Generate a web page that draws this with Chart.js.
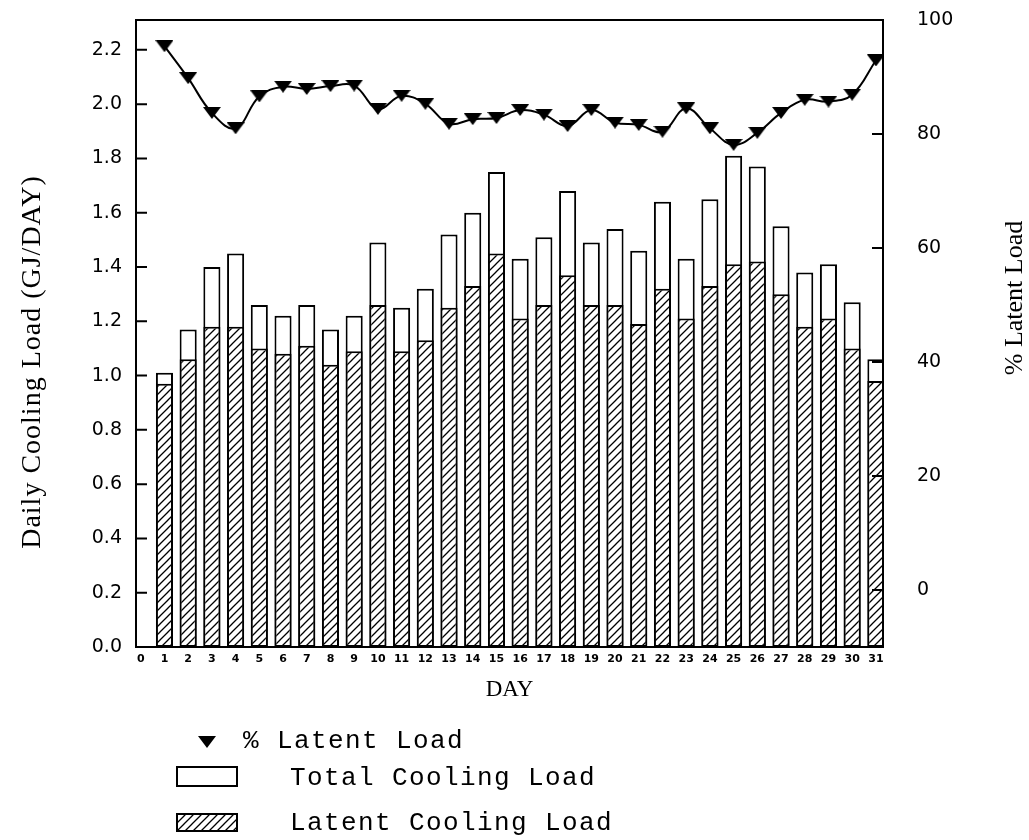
<!DOCTYPE html>
<html>
<head>
<meta charset="utf-8">
<title>Daily Cooling Load</title>
<script src="https://cdn.jsdelivr.net/npm/chart.js@4.4.1/dist/chart.umd.min.js"></script>
<style>
  html, body { margin: 0; padding: 0; background: #fff; }
  #wrap { position: relative; width: 1029px; height: 840px; }
</style>
</head>
<body>
<div id="wrap"><canvas id="coolingChart"></canvas></div>
<script>
// values
const days = [1, 2, 3, 4, 5, 6, 7, 8, 9, 10, 11, 12, 13, 14, 15, 16, 17, 18, 19, 20, 21, 22, 23, 24, 25, 26, 27, 28, 29, 30, 31];
const totalLoad = [1.01, 1.17, 1.40, 1.45, 1.26, 1.22, 1.26, 1.17, 1.22, 1.49, 1.25, 1.32, 1.52, 1.60, 1.75, 1.43,
                   1.51, 1.68, 1.49, 1.54, 1.46, 1.64, 1.43, 1.65, 1.81, 1.77, 1.55, 1.38, 1.41, 1.27, 1.06];
const latentLoad = [0.97, 1.06, 1.18, 1.18, 1.10, 1.08, 1.11, 1.04, 1.09, 1.26, 1.09, 1.13, 1.25, 1.33, 1.45, 1.21,
                    1.26, 1.37, 1.26, 1.26, 1.19, 1.32, 1.21, 1.33, 1.41, 1.42, 1.30, 1.18, 1.21, 1.10, 0.98];
const pctLatent = [95.4, 89.8, 83.7, 81.0, 86.6, 88.3, 87.9, 88.4, 88.5, 84.4, 86.7, 85.3, 81.8, 82.6, 82.8, 84.2,
                   83.4, 81.4, 84.2, 82.0, 81.6, 80.4, 84.5, 81.0, 78.1, 80.2, 83.7, 86.0, 85.7, 86.9, 92.9];

const dayTicks = [0, 1, 2, 3, 4, 5, 6, 7, 8, 9, 10, 11, 12, 13, 14, 15, 16, 17, 18, 19, 20, 21, 22, 23, 24, 25, 26, 27, 28, 29, 30, 31];
const leftTicks = [0.0, 0.2, 0.4, 0.6, 0.8, 1.0, 1.2, 1.4, 1.6, 1.8, 2.0, 2.2];
const rightTicks = [0, 20, 40, 60, 80, 100];

const legendLabels = ['% Latent Load', 'Total Cooling Load', 'Latent Cooling Load'];

// diagonal hatch used for the latent bars
function makeHatch() {
    const c = document.createElement('canvas');
    c.width = 8; c.height = 8;
    const g = c.getContext('2d');
    g.fillStyle = '#fff';
    g.fillRect(0, 0, 8, 8);
    g.strokeStyle = '#000';
    g.lineWidth = 1.3;
    g.beginPath();
    g.moveTo(-1, 9); g.lineTo(9, -1);
    g.moveTo(-1, 1); g.lineTo(1, -1);
    g.moveTo(7, 9); g.lineTo(9, 7);
    g.stroke();
    return g.createPattern(c, 'repeat');
}

// flat downward triangle marker
function makeTriangle() {
    const c = document.createElement('canvas');
    c.width = 18; c.height = 12;
    const g = c.getContext('2d');
    g.fillStyle = '#000';
    g.beginPath();
    g.moveTo(0, 0); g.lineTo(18, 0); g.lineTo(9, 12);
    g.closePath();
    g.fill();
    return c;
}

const hatch = makeHatch();
const triangle = makeTriangle();

const framePlugin = {
    id: 'frame',
    afterDraw(chart) {
        const ctx = chart.ctx;
        const a = chart.chartArea;
        const y = chart.scales.y, y2 = chart.scales.y2;
        ctx.save();
        ctx.strokeStyle = '#000';
        ctx.lineWidth = 2;
        ctx.strokeRect(a.left, a.top, a.right - a.left, a.bottom - a.top);

        // inward tick marks
        ctx.beginPath();
        leftTicks.forEach(v => {
            const p = y.getPixelForValue(v);
            ctx.moveTo(a.left, p); ctx.lineTo(a.left + 11, p);
        });
        rightTicks.forEach(v => {
            const p = y2.getPixelForValue(v);
            ctx.moveTo(a.right, p); ctx.lineTo(a.right - 11, p);
        });
        ctx.stroke();

        // axis titles
        ctx.fillStyle = '#000';
        ctx.textAlign = 'center';
        ctx.textBaseline = 'middle';
        ctx.font = '28px "Liberation Serif"';
        ctx.save();
        ctx.letterSpacing = '1px';
        ctx.translate(33, 362);
        ctx.rotate(-Math.PI / 2);
        ctx.fillText('Daily Cooling Load (GJ/DAY)', 0, 0);
        ctx.restore();
        ctx.font = '26px "Liberation Serif"';
        ctx.save();
        ctx.translate(1015, 298);
        ctx.rotate(-Math.PI / 2);
        ctx.fillText('% Latent Load', 0, 0);
        ctx.restore();
        ctx.font = '23px "Liberation Serif"';
        ctx.fillText('DAY', (a.left + a.right) / 2, 690);

        // legend
        ctx.drawImage(triangle, 198, 736);
        ctx.textAlign = 'left';
        ctx.textBaseline = 'alphabetic';
        ctx.font = '26px "Liberation Mono"';
        ctx.letterSpacing = '1.4px';
        ctx.fillText(legendLabels[0], 243, 748);
        ctx.fillStyle = '#fff';
        ctx.fillRect(177, 767, 60, 19);
        ctx.strokeRect(177, 767, 60, 19);
        ctx.fillStyle = '#000';
        ctx.fillText(legendLabels[1], 290, 785);
        ctx.fillStyle = hatch;
        ctx.fillRect(177, 814, 60, 17);
        ctx.strokeRect(177, 814, 60, 17);
        ctx.fillStyle = '#000';
        ctx.fillText(legendLabels[2], 290, 830);
        ctx.restore();
    }
};

const ctx = document.getElementById('coolingChart').getContext('2d');
new Chart(ctx, {
    type: 'bar',
    data: {
        datasets: [
            {
                type: 'line',
                label: legendLabels[0],
                data: days.map((d, i) => ({ x: d, y: pctLatent[i] })),
                yAxisID: 'y2',
                borderColor: '#000',
                borderWidth: 2,
                tension: 0.4,
                pointStyle: triangle,
                pointRadius: 6,
                order: 0
            },
            {
                label: legendLabels[2],
                data: days.map((d, i) => ({ x: d, y: latentLoad[i] })),
                yAxisID: 'y',
                backgroundColor: hatch,
                borderColor: '#000',
                borderWidth: 2,
                borderSkipped: false,
                grouped: false,
                barPercentage: 0.72,
                categoryPercentage: 1,
                order: 1
            },
            {
                label: legendLabels[1],
                data: days.map((d, i) => ({ x: d, y: totalLoad[i] })),
                yAxisID: 'y',
                backgroundColor: '#fff',
                borderColor: '#000',
                borderWidth: 2,
                borderSkipped: false,
                grouped: false,
                barPercentage: 0.72,
                categoryPercentage: 1,
                order: 2
            }
        ]
    },
    options: {
        responsive: true,
        maintainAspectRatio: false,
        animation: false,
        layout: { padding: { top: 20, left: 0, right: 0, bottom: 0 } },
        plugins: {
            legend: { display: false },
            tooltip: { enabled: false }
        },
        scales: {
            x: {
                type: 'linear',
                offset: false,
                min: -0.2,
                max: 31.3,
                grid: { display: false, drawTicks: false, offset: false },
                border: { display: false },
                afterBuildTicks: s => { s.ticks = dayTicks.map(v => ({ value: v })); },
                afterFit: s => { s.height = 193; s.paddingLeft = 0; s.paddingRight = 0; },
                ticks: {
                    autoSkip: false,
                    maxRotation: 0,
                    padding: 6,
                    color: '#000',
                    font: { family: 'DejaVu Sans', size: 11, weight: 'bold' },
                    callback: v => String(v)
                }
            },
            y: {
                position: 'left',
                min: 0,
                max: 2.31,
                grid: { display: false, drawTicks: false },
                border: { display: false },
                afterBuildTicks: s => { s.ticks = leftTicks.map(v => ({ value: v })); },
                afterFit: s => { s.width = 136; s.paddingTop = 0; s.paddingBottom = 0; },
                ticks: {
                    padding: 14,
                    color: '#000',
                    font: { family: 'DejaVu Sans', size: 19 },
                    callback: v => v.toFixed(1)
                }
            },
            y2: {
                position: 'right',
                min: -10,
                max: 100,
                grid: { display: false, drawTicks: false },
                border: { display: false },
                afterBuildTicks: s => { s.ticks = rightTicks.map(v => ({ value: v })); },
                afterFit: s => { s.width = 146; s.paddingTop = 0; s.paddingBottom = 0; },
                ticks: {
                    padding: 34,
                    color: '#000',
                    font: { family: 'DejaVu Sans', size: 19 },
                    callback: v => String(v)
                }
            }
        }
    },
    plugins: [framePlugin]
});
</script>
</body>
</html>
